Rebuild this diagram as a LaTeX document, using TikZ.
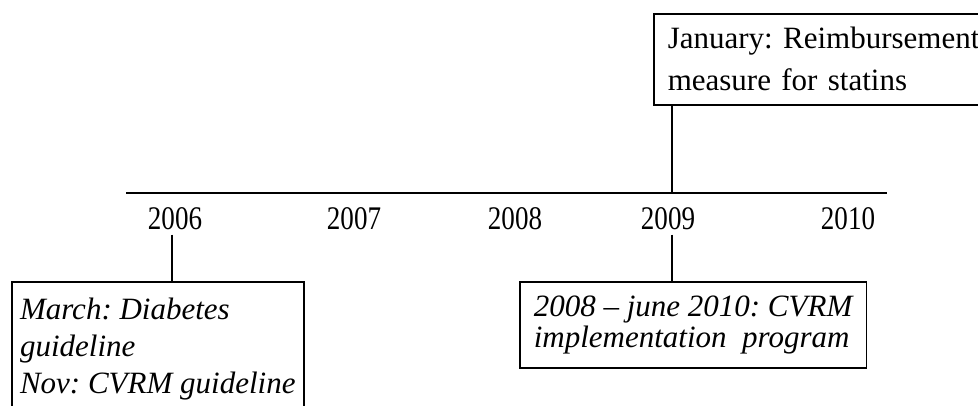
\documentclass[tikz,border=0pt]{standalone}
\usepackage{fontspec}
\setmainfont{Liberation Serif}
\newfontfamily\yearfont[FakeStretch=0.82]{Liberation Serif}
\usetikzlibrary{positioning}
\frenchspacing

\tikzset{
  eventbox/.style={draw, line width=1.5pt, anchor=north west, align=left, inner ysep=0pt},
  yearlbl/.style={font=\yearfont\fontsize{33}{33}\selectfont, inner sep=2pt, anchor=base},
  stem/.style={line width=1.5pt}
}

\begin{document}
\begin{tikzpicture}[x=1pt,y=-1pt]
  \useasboundingbox (0,0) rectangle (978,405);
  \clip (0,0) rectangle (978,405);
  % the time axis
  \coordinate (axisL) at (126,193);
  \coordinate (axisR) at (887,193);
  \draw [line width=2pt] (axisL) -- (axisR);
  \coordinate (t2006) at (172,193);
  \coordinate (t2009) at (672,193);
  % years
  \node [yearlbl] (y2006) at (175,229) {2006};
  \node [yearlbl] (y2007) at (354,229) {2007};
  \node [yearlbl] (y2008) at (515,229) {2008};
  \node [yearlbl] (y2009) at (668,229) {2009};
  \node [yearlbl] (y2010) at (848,229) {2010};
  % events
  \node [eventbox, inner xsep=14pt, text width=330pt, minimum height=91pt,
         font=\fontsize{31}{42}\selectfont] (statins) at (653,13)
        {January: Reimbursement\\measure for statins};
  \node [eventbox, inner xsep=0pt, minimum width=292pt, minimum height=134pt,
         font=\itshape\fontsize{31}{37}\selectfont] (diabetes) at (11,281)
        {March: Diabetes\\guideline\\Nov: CVRM guideline};
  \node [eventbox, inner xsep=14pt, minimum height=86pt,
         font=\itshape\fontsize{31}{31}\selectfont] (cvrm) at (519,281)
        {2008 – june 2010: CVRM\\implementation\ \ program};
  % stems
  \draw [stem] (t2009) -- (t2009 |- statins.south);
  \draw [stem] ([yshift=-3pt]t2009 |- y2009.south) -- (t2009 |- cvrm.north);
  \draw [stem] ([yshift=-3pt]t2006 |- y2006.south) -- (t2006 |- diabetes.north);
\end{tikzpicture}
\end{document}
